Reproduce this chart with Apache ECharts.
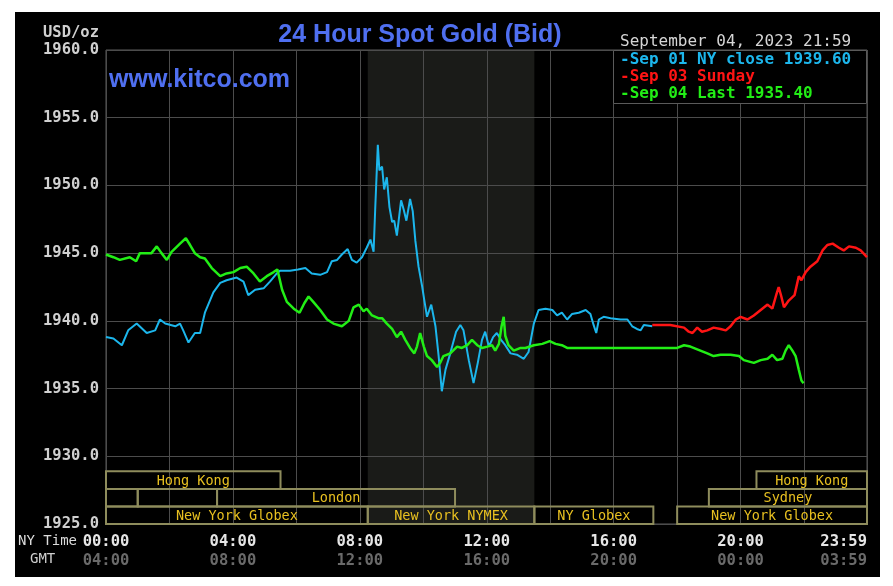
<!DOCTYPE html>
<html>
<head>
<meta charset="utf-8">
<script src="https://cdn.jsdelivr.net/npm/echarts@6/dist/echarts.min.js"></script>
<style>
  html, body { margin: 0; padding: 0; background: #fff; }
  #bg { position: absolute; left: 15px; top: 12px; width: 865px; height: 565px; background: #000; }
  #chart { position: absolute; left: 0; top: 0; width: 893px; height: 586px; }
</style>
</head>
<body>
<div id="bg"></div>
<div id="chart"></div>
<script>
// ---- data (minutes after NY midnight, USD/oz) ----
const sep01Times = [0,14,30,42,58,77,93,102,112,131,140,146,156,168,178,187,203,216,228,247,260,269,282,298,310,323,329,348,363,377,389,405,418,427,437,446,457,465,474,484,493,500,506,509,514,517,522,526,531,536,541,545,550,558,563,568,575,580,585,591,598,602,607,615,623,629,635,642,651,662,670,676,686,695,703,711,717,724,732,739,747,755,765,777,790,799,809,818,831,844,853,862,872,881,894,907,916,922,927,932,941,954,973,986,995,1004,1011,1017,1033];
const sep01Values = [1938.8,1938.7,1938.2,1939.3,1939.8,1939.1,1939.3,1940.1,1939.8,1939.6,1939.8,1939.3,1938.4,1939.1,1939.1,1940.6,1942.1,1942.8,1943.0,1943.2,1942.9,1941.9,1942.3,1942.4,1942.9,1943.5,1943.7,1943.7,1943.8,1943.9,1943.5,1943.4,1943.6,1944.4,1944.5,1944.9,1945.3,1944.5,1944.3,1944.7,1945.4,1946.0,1945.1,1948.2,1953.0,1951.1,1951.4,1949.7,1950.6,1948.4,1947.3,1947.4,1946.3,1948.9,1948.2,1947.4,1949.0,1948.1,1945.9,1944.0,1942.5,1941.5,1940.3,1941.2,1939.6,1937.4,1934.8,1936.4,1937.6,1939.2,1939.7,1939.3,1937.1,1935.4,1936.9,1938.6,1939.2,1938.1,1938.8,1939.1,1938.6,1938.2,1937.6,1937.5,1937.2,1937.7,1939.8,1940.8,1940.9,1940.8,1940.4,1940.6,1940.1,1940.5,1940.6,1940.8,1940.5,1939.7,1939.1,1940.1,1940.3,1940.2,1940.1,1940.1,1939.6,1939.4,1939.3,1939.7,1939.6];

const sep03Times = [1033,1067,1093,1102,1109,1118,1127,1137,1149,1162,1172,1181,1191,1200,1213,1225,1238,1251,1260,1268,1272,1277,1282,1291,1302,1310,1315,1323,1332,1345,1355,1364,1374,1386,1395,1405,1418,1427,1439];
const sep03Values = [1939.7,1939.7,1939.5,1939.2,1939.1,1939.5,1939.2,1939.3,1939.5,1939.4,1939.3,1939.6,1940.1,1940.3,1940.1,1940.4,1940.8,1941.2,1940.9,1942.0,1942.5,1941.8,1941.0,1941.5,1941.9,1943.3,1943.0,1943.6,1944.0,1944.4,1945.2,1945.6,1945.7,1945.4,1945.2,1945.5,1945.4,1945.2,1944.7];

const sep04Times = [0,14,26,45,57,64,77,86,96,105,115,124,140,151,159,168,178,187,200,216,228,241,254,266,279,291,304,317,324,333,342,355,366,375,383,392,405,418,430,446,459,468,478,487,493,503,515,522,531,541,550,558,566,575,583,588,594,601,607,616,626,632,638,651,664,673,683,692,702,711,721,730,736,743,748,752,755,761,771,784,793,809,825,839,850,862,872,1080,1093,1105,1118,1137,1149,1162,1181,1197,1206,1225,1238,1251,1260,1269,1279,1285,1291,1298,1304,1310,1315,1319];
const sep04Values = [1944.9,1944.7,1944.5,1944.7,1944.4,1945.0,1945.0,1945.0,1945.5,1945.0,1944.5,1945.1,1945.7,1946.1,1945.6,1945.0,1944.7,1944.6,1943.9,1943.3,1943.5,1943.6,1943.9,1944.0,1943.5,1942.9,1943.3,1943.6,1943.8,1942.3,1941.4,1940.9,1940.6,1941.3,1941.8,1941.4,1940.8,1940.1,1939.8,1939.6,1940.0,1941.0,1941.2,1940.7,1940.9,1940.4,1940.2,1940.2,1939.8,1939.4,1938.8,1939.2,1938.6,1938.0,1937.6,1938.1,1939.1,1938.1,1937.4,1937.1,1936.6,1936.9,1937.4,1937.6,1938.1,1938.0,1938.2,1938.6,1938.2,1938.0,1938.1,1938.2,1937.8,1938.3,1939.6,1940.3,1938.9,1938.2,1937.8,1938.0,1938.0,1938.2,1938.3,1938.5,1938.3,1938.2,1938.0,1938.0,1938.2,1938.1,1937.9,1937.6,1937.4,1937.5,1937.5,1937.4,1937.1,1936.9,1937.1,1937.2,1937.5,1937.1,1937.2,1937.8,1938.2,1937.8,1937.4,1936.4,1935.6,1935.4];

// trading sessions (row 0 = bottom)
const sessionNames = ['Hong Kong','Hong Kong','','','London','Sydney','New York Globex','New York NYMEX','NY Globex','New York Globex'];
const sessionStart = [0,1230,0,60,210,1140,0,495,810,1080];
const sessionEnd   = [330,1439,60,210,660,1439,495,810,1035,1439];
const sessionRow   = [2,2,1,1,1,1,0,0,0,0];

// NYMEX shaded hours
const shadeStart = [495];
const shadeEnd = [810];

const yTicks = { min: 1925, max: 1960, step: 5 };
const xLabelMinutes = [0,240,480,720,960,1200,1439];
const gmtOffsetHours = 4;

const titleText = '24 Hour Spot Gold (Bid)';
const siteText = 'www.kitco.com';
const dateText = 'September 04, 2023 21:59';

// ---- build ----
const pair = (t, v) => t.map((x, i) => [x, v[i]]);
const pad = n => String(n).padStart(2, '0');
const MONO = '"DejaVu Sans Mono", "Liberation Mono", monospace';
const SANS = '"Liberation Sans", Arial, sans-serif';

const cyan = '#1cb6ec', red = '#ff1414', green = '#22ee16';

const legendLines = [
  { text: '-Sep 01 NY close ' + sep01Values[sep01Values.length - 1].toFixed(2), color: cyan },
  { text: '-Sep 03 Sunday', color: red },
  { text: '-Sep 04 Last ' + sep04Values[sep04Values.length - 1].toFixed(2), color: green }
];

const chart = echarts.init(document.getElementById('chart'), null, { renderer: 'canvas' });

const option = {
  backgroundColor: 'transparent',
  animation: false,
  grid: { left: 106, right: 26, top: 50, bottom: 62, show: true, borderColor: '#5a5a5a', borderWidth: 1, containLabel: false },
  xAxis: {
    type: 'value', min: 0, max: 1439, interval: 120,
    axisLine: { show: false },
    axisTick: { show: false },
    splitLine: { show: true, lineStyle: { color: '#4c4c4c', width: 1 } },
    axisLabel: {
      customValues: xLabelMinutes,
      alignMaxLabel: 'right',
      margin: 8,
      formatter: v => {
        const h = Math.floor(v / 60), m = v % 60;
        const g = (h + gmtOffsetHours) % 24;
        return '{a|' + pad(h) + ':' + pad(m) + '}\n{b|' + pad(g) + ':' + pad(m) + '}';
      },
      rich: {
        a: { fontFamily: MONO, fontWeight: 'bold', fontSize: 15.5, color: '#e6e6e6', lineHeight: 19 },
        b: { fontFamily: MONO, fontWeight: 'bold', fontSize: 15.5, color: '#6a6a6a', lineHeight: 19 }
      }
    }
  },
  yAxis: [
    {
      type: 'value', min: yTicks.min, max: yTicks.max, interval: yTicks.step,
      name: 'USD/oz', nameLocation: 'end', nameGap: 9,
      nameTextStyle: { fontFamily: MONO, fontWeight: 'bold', fontSize: 15.5, color: '#d0d0d0', align: 'right', padding: [0, 7, 0, 0] },
      axisLine: { show: false }, axisTick: { show: false },
      splitLine: { show: true, lineStyle: { color: '#4c4c4c', width: 1 } },
      axisLabel: { margin: 7, fontFamily: MONO, fontWeight: 'bold', fontSize: 15.5, color: '#d0d0d0', formatter: v => v.toFixed(1) }
    },
    { type: 'value', min: 0, max: 27, show: false }
  ],
  graphic: [
    { type: 'text', z: 20, style: { text: titleText, x: 420, y: 35, align: 'center', verticalAlign: 'middle', font: 'bold 25px ' + SANS, fill: '#4f6ff0' } },
    { type: 'text', z: 20, style: { text: siteText, x: 109, y: 80, align: 'left', verticalAlign: 'middle', font: 'bold 25px ' + SANS, fill: '#4f6ff0' } },
    { type: 'text', z: 20, style: { text: dateText, x: 620, y: 42, align: 'left', verticalAlign: 'middle', font: '16px ' + MONO, fill: '#d6d6d6' } },
    { type: 'rect', z: 20, shape: { x: 613.5, y: 50.5, width: 253, height: 53 }, style: { fill: '#000', stroke: '#5a5a5a', lineWidth: 1 } },
    ...legendLines.map((l, i) => ({ type: 'text', z: 21, style: { text: l.text, x: 620, y: 60 + i * 17, align: 'left', verticalAlign: 'middle', font: 'bold 16px ' + MONO, fill: l.color } })),
    { type: 'text', z: 20, style: { text: 'NY Time', x: 18, y: 541, align: 'left', verticalAlign: 'middle', font: '14px ' + MONO, fill: '#dcdcdc' } },
    { type: 'text', z: 20, style: { text: 'GMT', x: 30, y: 559, align: 'left', verticalAlign: 'middle', font: '14px ' + MONO, fill: '#cfcfcf' } }
  ],
  series: [
    {
      type: 'custom', z: -1, silent: true, coordinateSystem: 'cartesian2d', xAxisIndex: 0, yAxisIndex: 0,
      data: shadeStart.map((s, i) => [s, shadeEnd[i]]),
      encode: { x: [0, 1] },
      renderItem: (params, api) => {
        const p0 = api.coord([api.value(0), yTicks.max]);
        const p1 = api.coord([api.value(1), yTicks.min]);
        return { type: 'rect', shape: { x: p0[0], y: p0[1], width: p1[0] - p0[0], height: p1[1] - p0[1] }, style: { fill: '#1a1b18' } };
      }
    },
    {
      type: 'custom', z: 3, silent: true, coordinateSystem: 'cartesian2d', xAxisIndex: 0, yAxisIndex: 1,
      data: sessionStart.map((s, i) => [s, sessionEnd[i], sessionRow[i]]),
      encode: { x: [0, 1], y: 2 },
      renderItem: (params, api) => {
        const s = api.value(0), e = api.value(1), r = api.value(2);
        const p0 = api.coord([s, r + 1]);
        const p1 = api.coord([e, r]);
        return {
          type: 'group',
          children: [
            { type: 'rect', shape: { x: p0[0], y: p0[1], width: p1[0] - p0[0], height: p1[1] - p0[1] }, style: { fill: 'none', stroke: '#8e8c5c', lineWidth: 2 } },
            { type: 'text', style: { text: sessionNames[params.dataIndex], x: (p0[0] + p1[0]) / 2, y: (p0[1] + p1[1]) / 2 + 1, align: 'center', verticalAlign: 'middle', font: '13.5px ' + MONO, fill: '#e8c020' } }
          ]
        };
      }
    },
    { name: 'Sep 01', type: 'line', z: 5, showSymbol: false, data: pair(sep01Times, sep01Values), lineStyle: { color: cyan, width: 2 }, itemStyle: { color: cyan } },
    { name: 'Sep 03', type: 'line', z: 5, showSymbol: false, data: pair(sep03Times, sep03Values), lineStyle: { color: red, width: 2.5 }, itemStyle: { color: red } },
    { name: 'Sep 04', type: 'line', z: 6, showSymbol: false, data: pair(sep04Times, sep04Values), lineStyle: { color: green, width: 2.5 }, itemStyle: { color: green } }
  ]
};
chart.setOption(option);
</script>
</body>
</html>
